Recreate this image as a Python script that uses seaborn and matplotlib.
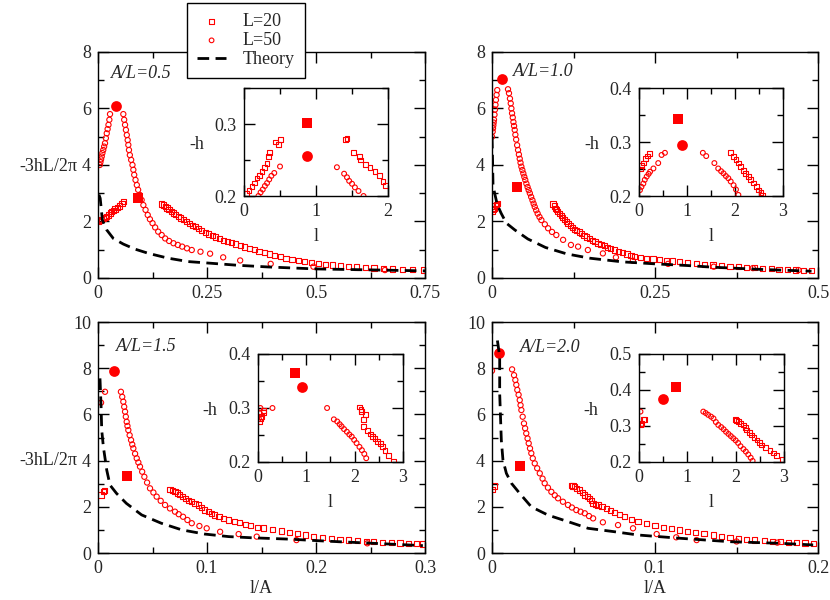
import matplotlib
matplotlib.use("Agg")
import matplotlib.pyplot as plt
from matplotlib.ticker import MultipleLocator
import seaborn as sns

sns.set_style("ticks")
plt.rcParams["font.family"] = ["Liberation Serif", "DejaVu Serif"]

# (l/A, -3hL/2pi) points, one list per series and panel

# ---------------- A/L = 0.5 ----------------
tl_l50 = [(0.004, 4.0), (0.0055, 4.1), (0.007, 4.2), (0.0085, 4.3), (0.01, 4.42), (0.012, 4.53),
          (0.014, 4.65), (0.016, 4.77), (0.018, 4.95), (0.02, 5.12), (0.022, 5.27), (0.024, 5.42),
          (0.026, 5.6), (0.0275, 5.8),
          (0.058, 5.8), (0.06, 5.6), (0.062, 5.42), (0.064, 5.24), (0.066, 5.06), (0.068, 4.88),
          (0.0695, 4.71), (0.071, 4.53), (0.073, 4.35), (0.076, 4.18), (0.079, 4.0), (0.081, 3.83),
          (0.083, 3.65), (0.086, 3.47), (0.089, 3.29), (0.092, 3.12), (0.096, 2.94), (0.1, 2.76),
          (0.104, 2.58), (0.109, 2.41), (0.114, 2.23), (0.119, 2.08), (0.125, 1.94), (0.131, 1.79),
          (0.138, 1.64), (0.146, 1.52), (0.154, 1.4), (0.163, 1.31), (0.173, 1.23), (0.183, 1.17),
          (0.193, 1.11), (0.204, 1.05), (0.215, 0.99), (0.235, 0.93), (0.257, 0.86), (0.287, 0.73),
          (0.326, 0.62), (0.396, 0.5), (0.494, 0.4), (0.658, 0.28)]
tl_l20 = [(0.0, 2.0), (0.004, 2.03), (0.0085, 2.06), (0.012, 2.1), (0.016, 2.14), (0.02, 2.18),
          (0.024, 2.23), (0.028, 2.3), (0.031, 2.35), (0.035, 2.4), (0.039, 2.44), (0.045, 2.5),
          (0.05, 2.55), (0.055, 2.65), (0.058, 2.7),
          (0.146, 2.62), (0.15, 2.58), (0.154, 2.53), (0.158, 2.48), (0.163, 2.42), (0.168, 2.36),
          (0.173, 2.3), (0.178, 2.24), (0.184, 2.18), (0.19, 2.12), (0.196, 2.06), (0.202, 2.0),
          (0.209, 1.93), (0.216, 1.87), (0.223, 1.81), (0.23, 1.76), (0.238, 1.69), (0.246, 1.62),
          (0.254, 1.56), (0.262, 1.5), (0.27, 1.45), (0.279, 1.39), (0.288, 1.34), (0.297, 1.29),
          (0.306, 1.25), (0.316, 1.2), (0.326, 1.15), (0.336, 1.1), (0.347, 1.05), (0.358, 1.0),
          (0.369, 0.95), (0.381, 0.9), (0.393, 0.85), (0.405, 0.8), (0.418, 0.75), (0.431, 0.7),
          (0.445, 0.65), (0.459, 0.61), (0.474, 0.57), (0.489, 0.54), (0.505, 0.51), (0.521, 0.49),
          (0.538, 0.46), (0.556, 0.44), (0.574, 0.41), (0.593, 0.39), (0.613, 0.37), (0.633, 0.35),
          (0.654, 0.33), (0.676, 0.32), (0.698, 0.3), (0.722, 0.29), (0.746, 0.28)]
tl_th_x = [0.002, 0.005, 0.01, 0.02, 0.035, 0.058, 0.085, 0.116, 0.161, 0.207, 0.26, 0.32, 0.39,
           0.5, 0.65, 0.75]
tl_th_y = [2.95, 2.82, 2.05, 1.7, 1.4, 1.2, 1.02, 0.87, 0.7, 0.58, 0.52, 0.45, 0.39, 0.32, 0.28, 0.25]
tl_pk20 = (0.0925, 2.82)
tl_pk50 = (0.0406, 6.09)

tl_in20_x = [0.04, 0.07, 0.11, 0.14, 0.18, 0.21, 0.25, 0.28, 0.32, 0.34, 0.35, 0.44, 0.48, 0.51,
             1.41, 1.43, 1.52, 1.6, 1.62, 1.69, 1.75, 1.82, 1.88, 1.93, 1.96]
tl_in20_y = [0.204, 0.208, 0.213, 0.218, 0.225, 0.229, 0.234, 0.24, 0.245, 0.255, 0.26, 0.275,
             0.271, 0.279, 0.278, 0.28, 0.26, 0.255, 0.25, 0.244, 0.24, 0.234, 0.229, 0.22, 0.215]
tl_in50_x = [0.2, 0.23, 0.26, 0.29, 0.32, 0.35, 0.38, 0.42, 0.5,
             1.29, 1.39, 1.43, 1.46, 1.5, 1.54, 1.59, 1.66]
tl_in50_y = [0.2, 0.205, 0.209, 0.214, 0.218, 0.223, 0.228, 0.232, 0.241,
             0.24, 0.231, 0.226, 0.221, 0.217, 0.212, 0.207, 0.2]
tl_in_pk20 = (0.88, 0.301)
tl_in_pk50 = (0.87, 0.256)

# ---------------- A/L = 1.0 ----------------
tr_l50 = [(0.0, 5.0), (0.001, 5.18), (0.0015, 5.3), (0.002, 5.4), (0.0025, 5.5), (0.003, 5.6),
          (0.0038, 5.78), (0.0045, 5.96), (0.0053, 6.13), (0.006, 6.3), (0.007, 6.48), (0.008, 6.65),
          (0.0245, 6.68), (0.026, 6.54), (0.0275, 6.35), (0.0287, 6.18), (0.0297, 6.0),
          (0.0307, 5.83), (0.0318, 5.68), (0.0328, 5.52), (0.0338, 5.38), (0.0348, 5.24),
          (0.0358, 5.07), (0.037, 4.9), (0.0385, 4.7), (0.0399, 4.53), (0.0412, 4.37),
          (0.0425, 4.22), (0.0437, 4.08), (0.045, 3.94), (0.0465, 3.82), (0.048, 3.7),
          (0.0495, 3.58), (0.051, 3.47), (0.0527, 3.34), (0.0545, 3.22), (0.0562, 3.11),
          (0.058, 3.0), (0.06, 2.87), (0.062, 2.75), (0.0638, 2.63), (0.0655, 2.52), (0.0677, 2.4),
          (0.07, 2.28), (0.0728, 2.16), (0.0757, 2.05), (0.081, 1.9), (0.086, 1.76), (0.092, 1.63),
          (0.0986, 1.52), (0.109, 1.35), (0.121, 1.17), (0.132, 1.11), (0.147, 0.99), (0.17, 0.87),
          (0.19, 0.73), (0.216, 0.61), (0.27, 0.5), (0.34, 0.4), (0.4, 0.35), (0.47, 0.28)]
tr_l20 = [(0.0, 2.35), (0.0015, 2.42), (0.003, 2.47), (0.0045, 2.55), (0.0066, 2.58), (0.009, 2.65),
          (0.0935, 2.62), (0.0955, 2.55), (0.097, 2.47), (0.099, 2.41), (0.101, 2.35), (0.103, 2.28),
          (0.106, 2.2), (0.108, 2.13), (0.111, 2.07), (0.114, 2.0), (0.1166, 1.94), (0.12, 1.87),
          (0.123, 1.8), (0.127, 1.73), (0.13, 1.68), (0.134, 1.63), (0.137, 1.58), (0.141, 1.51),
          (0.145, 1.45), (0.15, 1.39), (0.154, 1.33), (0.158, 1.28), (0.1626, 1.23), (0.167, 1.18),
          (0.172, 1.14), (0.177, 1.09), (0.182, 1.04), (0.188, 0.99), (0.194, 0.94), (0.2, 0.9),
          (0.207, 0.85), (0.213, 0.8), (0.219, 0.77), (0.228, 0.73), (0.237, 0.7), (0.247, 0.67),
          (0.257, 0.64), (0.267, 0.62), (0.277, 0.6), (0.288, 0.57), (0.3, 0.54), (0.313, 0.51),
          (0.326, 0.49), (0.339, 0.46), (0.352, 0.44), (0.365, 0.42), (0.378, 0.4), (0.39, 0.38),
          (0.403, 0.36), (0.415, 0.34), (0.428, 0.33), (0.44, 0.31), (0.453, 0.3), (0.465, 0.28),
          (0.478, 0.27), (0.49, 0.26)]
tr_th_x = [0.0, 0.0008, 0.0015, 0.004, 0.008, 0.014, 0.022, 0.035, 0.055, 0.082, 0.115, 0.15, 0.2,
           0.25, 0.3, 0.34, 0.416, 0.49]
tr_th_y = [5.0, 4.2, 3.3, 3.0, 2.6, 2.29, 1.94, 1.7, 1.38, 1.08, 0.85, 0.7, 0.57, 0.5, 0.44, 0.38,
           0.3, 0.24]
tr_pk20 = (0.0383, 3.21)
tr_pk50 = (0.015, 7.03)

tr_in20_x = [0.04, 0.056, 0.09, 0.13, 0.17, 0.215,
             1.91, 1.97, 2.02, 2.07, 2.12, 2.17, 2.22, 2.28, 2.33, 2.38, 2.44, 2.49, 2.54, 2.58]
tr_in20_y = [0.25, 0.256, 0.261, 0.27, 0.274, 0.279,
             0.28, 0.273, 0.267, 0.261, 0.254, 0.248, 0.242, 0.236, 0.23, 0.224, 0.217, 0.211,
             0.206, 0.202]
tr_in50_x = [0.02, 0.05, 0.09, 0.12, 0.16, 0.2, 0.23, 0.3, 0.4, 0.47, 0.54,
             1.33, 1.4, 1.57, 1.65, 1.71, 1.76, 1.81, 1.86, 1.91, 1.97, 2.02, 2.07]
tr_in50_y = [0.211, 0.217, 0.223, 0.23, 0.236, 0.241, 0.245, 0.251, 0.261, 0.276, 0.28,
             0.28, 0.274, 0.261, 0.251, 0.246, 0.242, 0.237, 0.233, 0.227, 0.22, 0.212, 0.202]
tr_in_pk20 = (0.81, 0.342)
tr_in_pk50 = (0.9, 0.294)

# ---------------- A/L = 1.5 ----------------
bl_l50 = [(0.0028, 6.51), (0.0064, 6.98),
          (0.021, 6.98), (0.0222, 6.76), (0.0232, 6.55), (0.024, 6.33), (0.0248, 6.12),
          (0.0255, 5.9), (0.0263, 5.68), (0.027, 5.5), (0.0278, 5.32), (0.029, 5.1), (0.0303, 4.89),
          (0.0314, 4.7), (0.0324, 4.53), (0.034, 4.3), (0.0355, 4.1), (0.037, 3.92), (0.0385, 3.74),
          (0.0405, 3.52), (0.0425, 3.3), (0.045, 3.05), (0.0477, 2.8), (0.0508, 2.62),
          (0.0538, 2.44), (0.0575, 2.26), (0.0615, 2.08), (0.066, 1.93), (0.0706, 1.79),
          (0.074, 1.68), (0.078, 1.57), (0.082, 1.43), (0.086, 1.29), (0.093, 1.17), (0.0997, 1.07),
          (0.112, 0.92), (0.129, 0.82), (0.1456, 0.71), (0.182, 0.56), (0.247, 0.42)]
bl_l20 = [(0.0028, 2.51), (0.0049, 2.65), (0.006, 2.72),
          (0.066, 2.75), (0.068, 2.7), (0.0706, 2.65), (0.073, 2.6), (0.075, 2.55), (0.0775, 2.45),
          (0.08, 2.36), (0.083, 2.29), (0.086, 2.22), (0.089, 2.15), (0.092, 2.08), (0.095, 1.97),
          (0.098, 1.86), (0.101, 1.79), (0.104, 1.72), (0.107, 1.65), (0.111, 1.57), (0.115, 1.5),
          (0.1196, 1.43), (0.125, 1.37), (0.13, 1.32), (0.135, 1.25), (0.14, 1.18), (0.146, 1.12),
          (0.152, 1.08), (0.16, 1.02), (0.168, 0.95), (0.176, 0.88), (0.183, 0.83), (0.19, 0.78),
          (0.198, 0.73), (0.206, 0.68), (0.214, 0.63), (0.222, 0.59), (0.23, 0.56), (0.238, 0.53),
          (0.246, 0.51), (0.253, 0.49), (0.261, 0.47), (0.269, 0.45), (0.277, 0.43), (0.285, 0.41),
          (0.292, 0.4), (0.298, 0.39)]
bl_th_x = [0.0018, 0.0028, 0.0034, 0.0049, 0.008, 0.011, 0.017, 0.026, 0.04, 0.058, 0.077, 0.098,
           0.12, 0.141, 0.176, 0.207, 0.253, 0.298]
bl_th_y = [7.56, 6.33, 5.32, 4.6, 3.59, 2.94, 2.58, 2.15, 1.65, 1.29, 1.0, 0.82, 0.71, 0.66, 0.6,
           0.52, 0.42, 0.32]
bl_pk20 = (0.0269, 3.33)
bl_pk50 = (0.0147, 7.89)

bl_in20_x = [0.04, 0.06, 0.08, 0.11, 0.12,
             2.1, 2.13, 2.15, 2.18, 2.18, 2.22, 2.27, 2.32, 2.37, 2.42, 2.47, 2.53, 2.58, 2.63,
             2.7, 2.8]
bl_in20_y = [0.275, 0.28, 0.284, 0.291, 0.296,
             0.302, 0.297, 0.294, 0.279, 0.266, 0.288, 0.259, 0.252, 0.247, 0.243, 0.238, 0.234,
             0.228, 0.222, 0.212, 0.202]
bl_in50_x = [0.02, 0.04, 0.05, 0.3,
             1.43, 1.57, 1.64, 1.69, 1.73, 1.78, 1.84, 1.89, 1.94, 1.99, 2.04, 2.1, 2.15, 2.2, 2.24]
bl_in50_y = [0.28, 0.29, 0.3, 0.3,
             0.3, 0.279, 0.275, 0.27, 0.266, 0.261, 0.256, 0.251, 0.247, 0.241, 0.235, 0.228,
             0.222, 0.215, 0.207]
bl_in_pk20 = (0.76, 0.365)
bl_in_pk50 = (0.92, 0.339)

# ---------------- A/L = 2.0 ----------------
br_l50 = [(0.0, 7.89),
          (0.0123, 7.95), (0.0135, 7.7), (0.0143, 7.49), (0.0149, 7.28), (0.0155, 7.06),
          (0.0163, 6.85), (0.017, 6.62), (0.0175, 6.4), (0.018, 6.19), (0.0188, 5.9),
          (0.0196, 5.61), (0.0203, 5.4), (0.021, 5.18), (0.0218, 4.96), (0.0225, 4.75),
          (0.0233, 4.53), (0.0241, 4.32), (0.025, 4.1), (0.0262, 3.88), (0.0277, 3.67),
          (0.0293, 3.45), (0.031, 3.22), (0.0323, 3.02), (0.0343, 2.83), (0.0364, 2.65),
          (0.0385, 2.5), (0.0405, 2.37), (0.0435, 2.22), (0.0466, 2.08), (0.049, 1.97),
          (0.0517, 1.86), (0.0543, 1.79), (0.0569, 1.72), (0.0595, 1.6), (0.062, 1.5),
          (0.068, 1.33), (0.0773, 1.21), (0.0865, 1.07), (0.101, 0.82), (0.113, 0.68),
          (0.1255, 0.56), (0.15, 0.5), (0.175, 0.45)]
br_l20 = [(0.0, 2.76), (0.0012, 2.9),
          (0.0487, 2.94), (0.0497, 2.9), (0.0507, 2.87), (0.052, 2.8), (0.0538, 2.73),
          (0.0553, 2.62), (0.0569, 2.51), (0.0585, 2.44), (0.06, 2.37), (0.061, 2.26),
          (0.062, 2.15), (0.0635, 2.11), (0.065, 2.08), (0.0675, 2.01), (0.07, 1.94),
          (0.0725, 1.85), (0.075, 1.75), (0.078, 1.66), (0.0814, 1.57), (0.0855, 1.46),
          (0.0896, 1.36), (0.0948, 1.27), (0.1, 1.18), (0.105, 1.12), (0.11, 1.06), (0.115, 1.0),
          (0.12, 0.94), (0.125, 0.88), (0.13, 0.83), (0.136, 0.78), (0.141, 0.73), (0.146, 0.68),
          (0.151, 0.63), (0.156, 0.59), (0.161, 0.56), (0.167, 0.54), (0.172, 0.51), (0.177, 0.49),
          (0.182, 0.47), (0.187, 0.45), (0.192, 0.43), (0.197, 0.42)]
br_th_x = [0.0033, 0.0047, 0.0047, 0.0057, 0.0067, 0.0088, 0.0119, 0.017, 0.0241, 0.0344, 0.0466,
           0.0589, 0.0753, 0.0896, 0.115, 0.146, 0.177, 0.197]
br_th_y = [9.2, 8.5, 6.91, 4.89, 4.03, 3.45, 3.02, 2.58, 2.0, 1.64, 1.36, 1.07, 0.92, 0.78, 0.64,
           0.49, 0.42, 0.35]
br_pk20 = (0.0174, 3.77)
br_pk50 = (0.0041, 8.67)

br_in20_x = [0.04, 0.06, 0.09, 0.12,
             1.99, 2.02, 2.05, 2.1, 2.16, 2.2, 2.23, 2.28, 2.33, 2.38, 2.44, 2.49, 2.54, 2.62,
             2.71, 2.78, 2.85, 2.96]
br_in20_y = [0.303, 0.307, 0.317, 0.319,
             0.319, 0.315, 0.312, 0.307, 0.303, 0.296, 0.289, 0.282, 0.275, 0.268, 0.261, 0.254,
             0.247, 0.24, 0.231, 0.225, 0.219, 0.206]
br_in50_x = [0.03, 0.06,
             1.33, 1.38, 1.43, 1.49, 1.54, 1.59, 1.64, 1.7, 1.75, 1.8, 1.85, 1.9, 1.95, 2.0, 2.05,
             2.1, 2.16, 2.21, 2.26, 2.31, 2.35]
br_in50_y = [0.34, 0.303,
             0.34, 0.336, 0.331, 0.326, 0.321, 0.311, 0.303, 0.297, 0.291, 0.284, 0.278, 0.272,
             0.266, 0.26, 0.253, 0.244, 0.236, 0.229, 0.221, 0.212, 0.203]
br_in_pk20 = (0.77, 0.409)
br_in_pk50 = (0.49, 0.374)

RED = "#ff0000"
FS = 13
DASH = (0, (4.2, 2.3))


def style_axes(ax, xmaj, xmin, ymaj, ymin):
    ax.xaxis.set_major_locator(MultipleLocator(xmaj))
    ax.xaxis.set_minor_locator(MultipleLocator(xmin))
    ax.yaxis.set_major_locator(MultipleLocator(ymaj))
    ax.yaxis.set_minor_locator(MultipleLocator(ymin))
    ax.tick_params(which="both", direction="in", top=True, right=True, labelsize=FS,
                   width=1, color="black", pad=5)
    ax.tick_params(which="major", length=8)
    ax.tick_params(which="minor", length=4)
    for s in ax.spines.values():
        s.set_linewidth(1)
        s.set_color("black")
    ax.set_xlabel("")
    ax.set_ylabel("")


def draw_points(ax, x20, y20, x50, y50, pk20, pk50, s_small, lab=False):
    sns.scatterplot(x=x20, y=y20, ax=ax, marker="s", s=s_small, facecolor="none",
                    edgecolor=RED, linewidth=0.8, label="L=20" if lab else None, legend=False)
    sns.scatterplot(x=x50, y=y50, ax=ax, marker="o", s=s_small, facecolor="none",
                    edgecolor=RED, linewidth=0.8, label="L=50" if lab else None, legend=False)
    sns.scatterplot(x=[pk20[0]], y=[pk20[1]], ax=ax, marker="s", s=50, color=RED,
                    edgecolor=RED, linewidth=0, legend=False)
    sns.scatterplot(x=[pk50[0]], y=[pk50[1]], ax=ax, marker="o", s=60, color=RED,
                    edgecolor=RED, linewidth=0, legend=False)


def main_panel(rect, pts20, pts50, thx, thy, pk20, pk50, xmax, ymax, xmaj, tag, tagpos,
               lab=False):
    ax = fig.add_axes(rect)
    x20, y20 = zip(*pts20)
    x50, y50 = zip(*pts50)
    draw_points(ax, list(x20), list(y20), list(x50), list(y50), pk20, pk50, 14, lab)
    sns.lineplot(x=thx, y=thy, ax=ax, sort=False, estimator=None, color="black", lw=2.0,
                 linestyle=DASH, label="Theory" if lab else None, legend=False)
    ax.set_xlim(0, xmax)
    ax.set_ylim(0, ymax)
    style_axes(ax, xmaj, xmaj / 2, 2, 1)
    ax.xaxis.set_major_formatter(plt.FuncFormatter(lambda v, p: f"{v:g}"))
    ax.text(tagpos[0], tagpos[1], tag, transform=ax.transAxes, fontsize=FS, style="italic",
            ha="left", va="center")
    return ax


def inset_panel(rect, x20, y20, x50, y50, pk20, pk50, xmax, ymin, ymax):
    ax = fig.add_axes(rect)
    draw_points(ax, x20, y20, x50, y50, pk20, pk50, 12)
    ax.set_xlim(0, xmax)
    ax.set_ylim(ymin, ymax)
    style_axes(ax, 1, 0.5, 0.1, 0.05)
    ax.yaxis.set_major_formatter(plt.FuncFormatter(lambda v, p: f"{v:.1f}"))
    ax.set_xlabel("l", fontsize=FS, labelpad=6)
    ax.set_ylabel("-h", fontsize=FS, rotation=0, va="center", ha="center")
    ax.yaxis.set_label_coords(-0.33, 0.48)
    return ax


fig = plt.figure(figsize=(8.3, 6.0), dpi=100)

ax_tl = main_panel([0.1181, 0.5367, 0.394, 0.3767], tl_l20, tl_l50, tl_th_x, tl_th_y,
                   tl_pk20, tl_pk50, 0.75, 8, 0.25, "A/L=0.5", (0.04, 0.905), lab=True)
ax_tr = main_panel([0.5928, 0.5367, 0.3928, 0.3767], tr_l20, tr_l50, tr_th_x, tr_th_y,
                   tr_pk20, tr_pk50, 0.5, 8, 0.25, "A/L=1.0", (0.065, 0.915))
ax_bl = main_panel([0.1181, 0.0783, 0.394, 0.385], bl_l20, bl_l50, bl_th_x, bl_th_y,
                   bl_pk20, bl_pk50, 0.3, 10, 0.1, "A/L=1.5", (0.055, 0.895))
ax_br = main_panel([0.5928, 0.0783, 0.3928, 0.385], br_l20, br_l50, br_th_x, br_th_y,
                   br_pk20, br_pk50, 0.2, 10, 0.1, "A/L=2.0", (0.085, 0.89))

ax_bl.set_xlabel("l/A", fontsize=FS, labelpad=2)
ax_br.set_xlabel("l/A", fontsize=FS, labelpad=2)

inset_panel([0.294, 0.6733, 0.1735, 0.18], tl_in20_x, tl_in20_y, tl_in50_x, tl_in50_y,
            tl_in_pk20, tl_in_pk50, 2, 0.2, 0.35)
inset_panel([0.7699, 0.6733, 0.1735, 0.18], tr_in20_x, tr_in20_y, tr_in50_x, tr_in50_y,
            tr_in_pk20, tr_in_pk50, 3, 0.2, 0.4)
inset_panel([0.3108, 0.23, 0.1747, 0.18], bl_in20_x, bl_in20_y, bl_in50_x, bl_in50_y,
            bl_in_pk20, bl_in_pk50, 3, 0.2, 0.4)
inset_panel([0.7699, 0.23, 0.1747, 0.18], br_in20_x, br_in20_y, br_in50_x, br_in50_y,
            br_in_pk20, br_in_pk50, 3, 0.2, 0.5)

fig.text(0.093, 0.723, "-3hL/2\u03c0", fontsize=FS, ha="right", va="center")
fig.text(0.093, 0.232, "-3hL/2\u03c0", fontsize=FS, ha="right", va="center")

handles, labels = ax_tl.get_legend_handles_labels()
leg = fig.legend(handles, labels, loc="upper left", bbox_to_anchor=(0.225, 0.995),
                 fontsize=FS, frameon=True, fancybox=False, edgecolor="black", framealpha=1,
                 borderpad=0.55, labelspacing=0.12, handlelength=1.65, handletextpad=0.9,
                 borderaxespad=0, markerscale=0.9)
leg.get_frame().set_linewidth(1)
leg.set_zorder(10)

fig.savefig("out.png", dpi=100, facecolor="white")
